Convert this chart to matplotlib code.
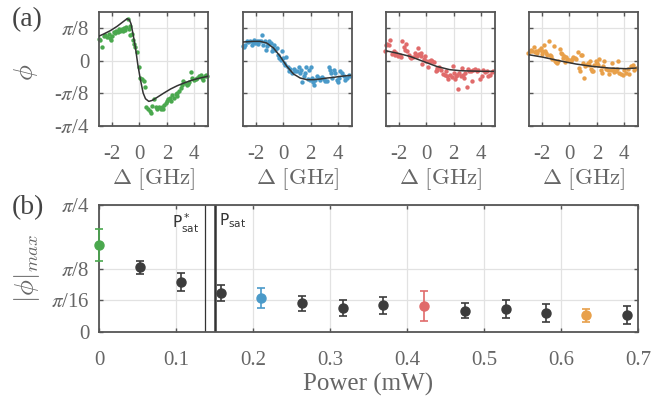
import numpy as np
import matplotlib
matplotlib.use('Agg')
import matplotlib.pyplot as plt

# ---------- data : panel (a), detuning [GHz] and phase [rad] ----------
d1 = [-2.98, -2.85, -2.76, -2.61, -2.49, -2.37, -2.24, -2.12, -2.05, -2.00, -1.88, -1.76, -1.68, -1.59,
      -1.51, -1.44, -1.34, -1.27, -1.20, -1.10, -1.02, -0.95, -0.85, -0.78, -0.71, -0.66, -0.56, -0.49,
      -0.41, -0.29, -0.17, -0.05, 0.07, 0.20, 0.32, 0.44, 0.51, 0.61, 0.76, 0.85, 0.93, 1.05, 1.17, 1.29,
      1.41, 1.54, 1.66, 1.73, 1.78, 1.90, 2.02, 2.10, 2.22, 2.32, 2.39, 2.51, 2.63, 2.71, 2.76, 2.88,
      3.00, 3.12, 3.20, 3.29, 3.44, 3.54, 3.63, 3.76, 3.85, 3.98, 4.10, 4.22, 4.34, 4.46, 4.59, 4.66,
      4.76, 4.88, 4.95]
p1 = [0.267, 0.250, 0.162, 0.303, 0.315, 0.291, 0.323, 0.275, 0.255, 0.295, 0.347, 0.335, 0.364, 0.347,
      0.380, 0.356, 0.372, 0.388, 0.364, 0.396, 0.376, 0.404, 0.509, 0.388, 0.416, 0.315, 0.323, 0.246,
      0.202, 0.162, 0.101, -0.081, -0.210, -0.222, -0.242, -0.315, -0.566, -0.586, -0.614, -0.634,
      -0.545, -0.461, -0.566, -0.582, -0.558, -0.586, -0.566, -0.590, -0.541, -0.513, -0.485, -0.461,
      -0.452, -0.485, -0.420, -0.452, -0.404, -0.432, -0.392, -0.364, -0.331, -0.299, -0.250, -0.271,
      -0.291, -0.283, -0.259, -0.137, -0.210, -0.230, -0.218, -0.210, -0.190, -0.170, -0.210, -0.230,
      -0.190, -0.178, -0.190]
fd1 = [-2.98, -2.61, -2.12, -1.63, -1.15, -0.90, -0.73, -0.61, -0.46, -0.29, -0.12, 0.07, 0.27, 0.44,
       0.68, 0.93, 1.29, 1.78, 2.27, 2.76, 3.24, 3.73, 4.22, 4.95]
fp1 = [0.295, 0.323, 0.364, 0.416, 0.477, 0.509, 0.493, 0.444, 0.315, 0.153, -0.048, -0.230, -0.392,
       -0.461, -0.493, -0.481, -0.444, -0.392, -0.343, -0.303, -0.271, -0.242, -0.218, -0.190]

d2 = [-2.95, -2.85, -2.76, -2.66, -2.54, -2.41, -2.29, -2.22, -2.12, -2.05, -1.93, -1.80, -1.73, -1.63,
      -1.56, -1.44, -1.32, -1.24, -1.15, -1.07, -1.00, -0.90, -0.83, -0.76, -0.66, -0.59, -0.46, -0.41,
      -0.27, -0.17, -0.10, -0.02, 0.07, 0.15, 0.22, 0.32, 0.41, 0.51, 0.63, 0.76, 0.88, 1.00, 1.12, 1.20,
      1.29, 1.37, 1.49, 1.61, 1.68, 1.78, 1.85, 1.93, 2.02, 2.10, 2.17, 2.27, 2.34, 2.46, 2.59, 2.71,
      2.83, 2.95, 3.07, 3.20, 3.32, 3.39, 3.49, 3.56, 3.68, 3.80, 3.93, 3.98, 4.05, 4.17, 4.29, 4.41,
      4.54, 4.66, 4.78, 4.90]
p2 = [0.174, 0.162, 0.194, 0.234, 0.222, 0.242, 0.194, 0.222, 0.246, 0.214, 0.242, 0.202, 0.234, 0.242,
      0.315, 0.194, 0.234, 0.133, 0.174, 0.202, 0.242, 0.214, 0.113, 0.154, 0.194, 0.133, 0.154, 0.073,
      0.032, 0.012, 0.121, 0.032, -0.028, -0.048, 0.040, -0.081, -0.129, -0.101, -0.149, -0.101, -0.129,
      -0.121, -0.081, -0.149, -0.109, -0.259, -0.190, -0.149, -0.081, -0.218, -0.109, -0.230, -0.081,
      -0.210, -0.259, -0.299, -0.230, -0.190, -0.210, -0.230, -0.202, -0.218, -0.242, -0.250, -0.081,
      -0.109, -0.149, -0.210, -0.109, -0.149, -0.230, -0.259, -0.210, -0.129, -0.149, -0.190, -0.230,
      -0.210, -0.170, -0.190]
fd2 = [-2.95, -2.17, -1.68, -1.20, -0.71, -0.22, 0.27, 0.76, 1.24, 1.73, 2.22, 2.71, 3.20, 3.68, 4.17, 4.90]
fp2 = [0.226, 0.234, 0.234, 0.214, 0.154, 0.053, -0.069, -0.162, -0.210, -0.230, -0.230, -0.222, -0.210,
       -0.202, -0.190, -0.178]

d3 = [-2.98, -2.95, -2.85, -2.71, -2.61, -2.46, -2.37, -2.27, -2.17, -2.05, -1.93, -1.80, -1.73, -1.63,
      -1.56, -1.44, -1.37, -1.24, -1.15, -1.07, -0.95, -0.83, -0.76, -0.66, -0.59, -0.51, -0.41, -0.34,
      -0.27, -0.17, -0.10, 0.02, 0.15, 0.22, 0.32, 0.39, 0.46, 0.56, 0.71, 0.76, 0.80, 0.95, 1.12, 1.24,
      1.37, 1.44, 1.54, 1.61, 1.73, 1.85, 1.93, 2.02, 2.10, 2.17, 2.27, 2.34, 2.41, 2.51, 2.59, 2.66,
      2.76, 2.83, 2.95, 3.07, 3.15, 3.24, 3.32, 3.44, 3.56, 3.68, 3.80, 3.93, 4.05, 4.17, 4.29, 4.41,
      4.54, 4.66, 4.78, 4.90]
p3 = [0.121, 0.194, 0.202, 0.186, 0.246, 0.081, 0.113, 0.073, 0.093, 0.053, 0.065, 0.040, 0.242, 0.162,
      0.133, 0.202, 0.113, 0.065, 0.040, 0.032, 0.040, 0.093, 0.073, 0.053, 0.154, 0.081, 0.093, 0.053,
      -0.040, 0.024, 0.053, 0.000, -0.081, -0.008, 0.012, -0.008, 0.000, -0.016, -0.129, -0.109, -0.089,
      -0.081, -0.109, -0.162, -0.170, -0.121, -0.190, -0.218, -0.170, -0.202, -0.069, -0.149, -0.218,
      -0.190, -0.170, -0.343, -0.149, -0.190, -0.089, -0.170, -0.210, -0.149, -0.323, -0.097, -0.121,
      -0.129, -0.242, -0.109, -0.097, -0.129, -0.109, -0.218, -0.190, -0.109, -0.137, -0.121, -0.190,
      -0.170, -0.137, -0.121]
fd3 = [-2.98, -2.17, -1.20, -0.22, 0.76, 1.73, 2.46, 3.20, 4.17, 4.90]
fp3 = [0.121, 0.093, 0.053, -0.008, -0.069, -0.109, -0.121, -0.125, -0.129, -0.129]

d4 = [-3.00, -2.90, -2.83, -2.71, -2.59, -2.51, -2.41, -2.34, -2.22, -2.10, -2.02, -1.98, -1.85, -1.78,
      -1.68, -1.61, -1.49, -1.44, -1.37, -1.24, -1.12, -1.05, -0.95, -0.88, -0.80, -0.71, -0.63, -0.56,
      -0.46, -0.39, -0.32, -0.22, -0.15, -0.02, 0.10, 0.17, 0.27, 0.41, 0.51, 0.59, 0.66, 0.76, 0.83,
      0.90, 1.00, 1.07, 1.15, 1.24, 1.32, 1.39, 1.49, 1.56, 1.63, 1.73, 1.80, 1.93, 1.98, 2.05, 2.17,
      2.29, 2.37, 2.46, 2.54, 2.66, 2.78, 2.90, 3.02, 3.10, 3.20, 3.27, 3.39, 3.44, 3.51, 3.63, 3.76,
      3.88, 4.00, 4.12, 4.24, 4.37, 4.49, 4.61, 4.73, 4.85]
p4 = [0.093, 0.121, 0.133, 0.113, 0.162, 0.105, 0.121, 0.093, 0.133, 0.154, 0.113, 0.081, 0.194, 0.121,
      0.093, 0.073, 0.242, 0.065, 0.053, 0.024, 0.174, -0.008, -0.016, -0.028, 0.000, 0.145, 0.093,
      0.081, 0.032, 0.053, -0.016, 0.040, 0.024, 0.012, -0.008, 0.024, 0.040, 0.032, 0.024, 0.105,
      -0.089, -0.121, 0.065, 0.073, -0.028, -0.210, -0.069, -0.057, -0.028, -0.048, -0.008, -0.097,
      -0.129, -0.121, -0.057, -0.008, -0.028, -0.057, 0.024, -0.109, -0.149, -0.069, 0.000, -0.097,
      -0.109, -0.162, -0.109, -0.028, -0.097, -0.137, -0.121, -0.097, 0.000, -0.149, -0.162, -0.170,
      -0.109, -0.149, -0.097, -0.162, -0.069, -0.048, -0.109, -0.089]
fd4 = [-3.00, -1.98, -0.76, 0.46, 1.68, 2.90, 4.12, 4.85]
fp4 = [0.073, 0.044, 0.000, -0.040, -0.069, -0.089, -0.097, -0.089]

# ---------- data : panel (b) ----------
power = [0.0, 0.053, 0.106, 0.158, 0.211, 0.264, 0.317, 0.369, 0.422, 0.475, 0.528, 0.580, 0.633, 0.686]
phimax = [0.538, 0.400, 0.309, 0.243, 0.208, 0.177, 0.150, 0.165, 0.159, 0.132, 0.140, 0.117, 0.103, 0.105]
phierr = [0.097, 0.040, 0.055, 0.050, 0.062, 0.045, 0.050, 0.054, 0.092, 0.045, 0.055, 0.057, 0.042, 0.057]
p_sat_star = 0.138
p_sat = 0.150

green = '#4aa84e'
blue = '#4a9ac9'
red = '#e06b6b'
orange = '#e8a04a'
dark = '#3c3c3c'
cols = [green, dark, dark, dark, blue, dark, dark, dark, red, dark, dark, dark, orange, dark]

plt.rcParams['font.family'] = ['Liberation Serif', 'DejaVu Serif']
plt.rcParams['mathtext.fontset'] = 'stix'
tcol = '#666666'
scol = '#555555'

fig = plt.figure(figsize=(6.65, 3.96), dpi=100)

def style(ax):
    for s in ax.spines.values():
        s.set_color(scol)
        s.set_linewidth(1.3)
    ax.tick_params(direction='in', length=3, width=1, color=scol, labelcolor=tcol,
                   labelsize=15, top=True, right=True)
    ax.tick_params(axis='y', pad=7)
    ax.tick_params(axis='x', pad=14)
    ax.grid(True, color='#e2e2e2', linewidth=0.9)
    ax.set_axisbelow(True)

# ========== Panel (a) ==========
lefts = [0.1489, 0.365, 0.580, 0.7955]
sets = [(d1, p1, fd1, fp1, green), (d2, p2, fd2, fp2, blue),
        (d3, p3, fd3, fp3, red), (d4, p4, fd4, fp4, orange)]
for i, (d, p, fd, fp, c) in enumerate(sets):
    ax = fig.add_axes([lefts[i], 0.683, 0.1639, 0.2866])
    style(ax)
    ax.scatter(d, p, s=10, color=c, zorder=2, clip_on=False, linewidths=0)
    ax.plot(fd, fp, color='#333333', lw=1.1, zorder=3)
    ax.set_xlim(-2.95, 5.0)
    ax.set_ylim(-np.pi / 4, 3 * np.pi / 16)
    ax.set_xticks([-2, 0, 2, 4])
    ax.set_xticklabels(['-2', '0', '2', '4'])
    ax.set_yticks([-np.pi / 4, -np.pi / 8, 0, np.pi / 8])
    if i == 0:
        ax.set_yticklabels([r'-$\pi$/4', r'-$\pi$/8', '0', r'$\pi$/8'])
        ax.set_ylabel(r'$\phi$', fontsize=19, color=tcol, math_fontfamily='cm')
        ax.yaxis.set_label_coords(-0.54, 0.47)
    else:
        ax.set_yticklabels([])
    ax.set_xlabel(r'$\Delta\ [\mathrm{GHz}]$', fontsize=16.5, color=tcol, math_fontfamily='cm')
    ax.xaxis.set_label_coords(0.5, -0.36)

fig.text(0.018, 0.95, '(a)', fontsize=20, color='#444444', va='center')
fig.text(0.018, 0.475, '(b)', fontsize=20, color='#444444', va='center')

# ========== Panel (b) ==========
axb = fig.add_axes([0.1489, 0.1616, 0.8105, 0.3207])
style(axb)
axb.set_xlim(0, 0.7)
axb.set_ylim(0, np.pi / 4)
axb.set_xticks(np.arange(0, 0.71, 0.1))
axb.set_xticklabels(['0', '0.1', '0.2', '0.3', '0.4', '0.5', '0.6', '0.7'])
axb.set_yticks([0, np.pi / 16, np.pi / 8, np.pi / 4])
axb.set_yticklabels(['0', r'$\pi$/16', r'$\pi$/8', r'$\pi$/4'])
for x, y, e, c in zip(power, phimax, phierr, cols):
    axb.errorbar(x, y, yerr=e, fmt='o', color=c, ms=6.5, capsize=3, elinewidth=1.2,
                 capthick=1.2, zorder=3, clip_on=False)
axb.axvline(p_sat_star, color='#333333', lw=0.9)
axb.axvline(p_sat, color='#333333', lw=1.8)
axb.text(p_sat_star - 0.008, 0.745, r'P$^*_{\rm sat}$', ha='right', va='top', fontsize=11,
         color='#333333', family='DejaVu Sans', math_fontfamily='dejavusans')
axb.text(p_sat + 0.006, 0.745, r'P$_{\rm sat}$', ha='left', va='top', fontsize=11,
         color='#333333', family='DejaVu Sans', math_fontfamily='dejavusans')
axb.set_xlabel('Power (mW)', fontsize=18, color=tcol)
axb.xaxis.set_label_coords(0.5, -0.32)
axb.set_ylabel(r'$|\phi|_{max}$', fontsize=19, color=tcol, math_fontfamily='cm')
axb.yaxis.set_label_coords(-0.105, 0.5)

fig.savefig('out.png', dpi=100)
